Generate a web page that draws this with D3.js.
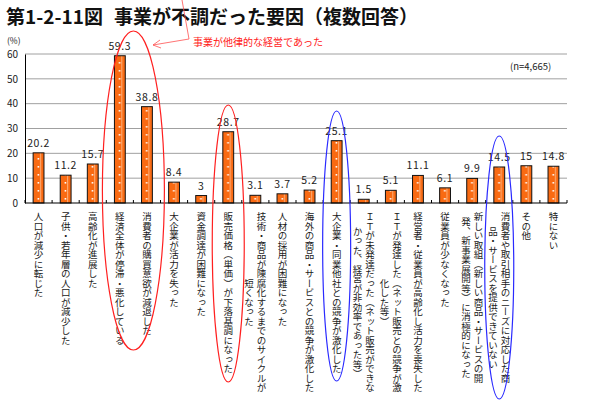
<!DOCTYPE html>
<html><head><meta charset="utf-8">
<script src="https://cdn.jsdelivr.net/npm/d3@7/dist/d3.min.js"></script>
<style>
body{margin:0;background:#fff}
svg{display:block}
text{font-family:"Noto Sans CJK JP","Noto Sans",sans-serif}
</style>
</head><body>
<svg id="chart" width="600" height="406"></svg>
<script>
// ---- data ----
const categories = [
  ["人口が減少に転じた"],
  ["子供・若年層の人口が減少した"],
  ["高齢化が進展した"],
  ["経済全体が停滞・悪化している"],
  ["消費者の購買意欲が減退した"],
  ["大企業が活力を失った"],
  ["資金調達が困難になった"],
  ["販売価格（単価）が下落基調になった"],
  ["技術・商品が陳腐化するまでのサイクルが", "短くなった"],
  ["人材の採用が困難になった"],
  ["海外の商品・サービスとの競争が激化した"],
  ["大企業・同業他社との競争が激化した"],
  ["ＩＴが未発達だった（ネット販売ができな", "かった、経営が非効率であった等）"],
  ["ＩＴが発達した（ネット販売との競争が激", "化した等）"],
  ["経営者・従業員が高齢化し活力を喪失した"],
  ["従業員が少なくなった"],
  ["新しい取組（新しい商品・サービスの開", "発、新事業展開等）に消極的になった"],
  ["消費者や取引相手のニーズに対応した商", "品・サービスを提供できていない"],
  ["その他"],
  ["特にない"]
];
const values = [20.2, 11.2, 15.7, 59.3, 38.8, 8.4, 3, 28.7, 3.1, 3.7, 5.2, 25.1, 1.5, 5.1, 11.1, 6.1, 9.9, 14.5, 15, 14.8];
const yTicks = [0, 10, 20, 30, 40, 50, 60];
const titleText = ["第1-2-11図", "事業が不調だった要因（複数回答）"];
const unitText = "(%)";
const sampleText = "(n=4,665)";
const noteText = "事業が他律的な経営であった";
// highlighted groups: [first index, last index, colour]
const highlights = [[3, 4, "#ff2020"], [7, 7, "#ff2020"], [11, 11, "#2a2aff"], [17, 17, "#2a2aff"]];

(function () {
// ---- layout ----
const svg = d3.select("#chart");
const pL = 25, pR = 567, pT = 54, pB = 203;
const idx = d3.range(values.length);
const x = d3.scaleBand().domain(idx).range([pL, pR]).paddingInner(0.6).paddingOuter(0.3);
const y = d3.scaleLinear().domain([0, 60]).range([pB, pT]);
const step = x.step();

svg.append("rect").attr("width", 600).attr("height", 406).attr("fill", "#fff");

// pattern for bars
const defs = svg.append("defs");
const pat = defs.append("pattern").attr("id", "dots").attr("patternUnits", "userSpaceOnUse")
  .attr("width", step).attr("height", 8).attr("x", x(0)).attr("y", pB);
pat.append("rect").attr("width", step).attr("height", 8).attr("fill", "#f96a12");
pat.append("rect").attr("x", x.bandwidth() / 2 + 1.5).attr("y", 0).attr("width", 1).attr("height", 8).attr("fill", "#fdb07a");
pat.append("rect").attr("x", x.bandwidth() / 2 - 1).attr("y", 3).attr("width", 1.6).attr("height", 1.6).attr("fill", "#fff");

// title
svg.append("text").attr("x", 6).attr("y", 24).attr("font-size", 19).attr("font-weight", "bold").attr("fill", "#111").text(titleText[0]);
svg.append("text").attr("x", 114).attr("y", 24).attr("font-size", 19).attr("font-weight", "bold").attr("fill", "#111").text(titleText[1]);

// gridlines
svg.append("g").selectAll("line").data(yTicks.filter(d => d > 0)).join("line")
  .attr("x1", pL).attr("x2", pR).attr("y1", d => y(d)).attr("y2", d => y(d))
  .attr("stroke", "#a0a0a0").attr("stroke-width", 1);

// y axis
const yAxis = svg.append("g").attr("transform", `translate(${pL},0)`)
  .call(d3.axisLeft(y).tickValues(yTicks).tickSize(0).tickPadding(7));
yAxis.select(".domain").attr("stroke", "#000");
yAxis.selectAll("text").attr("font-size", 10).attr("fill", "#222").attr("font-family", "'Noto Sans CJK JP',sans-serif");

svg.append("text").attr("x", 7).attr("y", 44).attr("font-size", 8.5).attr("fill", "#222").text(unitText);
svg.append("text").attr("x", 510).attr("y", 70).attr("font-size", 9.5).attr("fill", "#222").text(sampleText);

// bars
svg.append("g").selectAll("rect").data(values).join("rect")
  .attr("x", (d, i) => x(i)).attr("y", d => y(d))
  .attr("width", x.bandwidth()).attr("height", d => y(0) - y(d))
  .attr("fill", "url(#dots)").attr("stroke", "#111").attr("stroke-width", 1);

// value labels
svg.append("g").selectAll("text").data(values).join("text")
  .attr("x", (d, i) => x(i) + x.bandwidth() / 2).attr("y", d => y(d) - 6)
  .attr("text-anchor", "middle").attr("font-size", 10.5).attr("fill", "#222")
  .attr("letter-spacing", 0.6)
  .text(d => String(d));

// x axis
svg.append("line").attr("x1", pL).attr("x2", pR).attr("y1", pB).attr("y2", pB).attr("stroke", "#000").attr("stroke-width", 1.2);
svg.append("g").selectAll("line").data(d3.range(values.length + 1)).join("line")
  .attr("x1", i => pL + i * step).attr("x2", i => pL + i * step)
  .attr("y1", pB).attr("y2", pB - 3).attr("stroke", "#000");

// category labels (vertical)
const fs = 9.5, lineGap = 12.5, labelTop = 212;
const lab = svg.append("g");
categories.forEach((lines, i) => {
  const cx = x(i) + x.bandwidth() / 2;
  const n = lines.length;
  const lens = lines.map(l => l.length * fs);
  const maxLen = d3.max(lens);
  lines.forEach((l, j) => {
    lab.append("text")
      .attr("x", cx + ((n - 1) / 2 - j) * lineGap)
      .attr("y", labelTop + (maxLen - lens[j]) / 2)
      .attr("font-size", fs).attr("fill", "#1a1a1a")
      .style("writing-mode", "vertical-rl")
      .text(l);
  });
});

// highlight ellipses
const ellGeom = [[31, 350, 31], [105, 382, 16], [111, 381, 14], [136, 399, 14.5]];
highlights.forEach((h, k) => {
  const cx = (x(h[0]) + x(h[1]) + x.bandwidth()) / 2;
  const g = ellGeom[k];
  svg.append("ellipse").attr("cx", cx).attr("cy", (g[0] + g[1]) / 2)
    .attr("rx", g[2]).attr("ry", (g[1] - g[0]) / 2)
    .attr("fill", "none").attr("stroke", h[2]).attr("stroke-width", 1.2);
});

// note with arrow
svg.append("text").attr("x", 193).attr("y", 46).attr("font-size", 10).attr("fill", "#ff2020").text(noteText);
const ar = svg.append("g").attr("stroke", "#ff5050").attr("stroke-width", 0.8).attr("fill", "none");
ar.append("path").attr("d", "M182,0 L189,39 L153,45");
ar.append("path").attr("d", "M160,40 L153,45 L161,48");
})();
</script>
</body></html>
